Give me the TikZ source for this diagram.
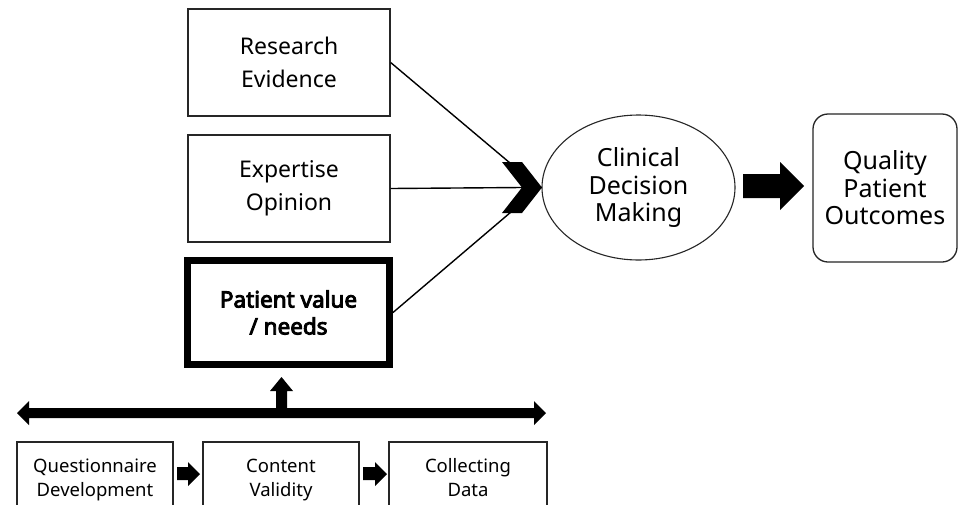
\documentclass[tikz,border=0pt]{standalone}
\usepackage{fontspec}
\setmainfont{Noto Sans}[AutoFakeBold=4]
\usetikzlibrary{shapes.geometric}
\begin{document}
\begin{tikzpicture}[x=1pt,y=-1pt,
  box/.style={draw=black!85, line width=1.3pt, align=center, inner sep=0pt},
  bigfont/.style={font=\fontsize{23}{33}\selectfont},
  midfont/.style={font=\fontsize{25}{27.5}\selectfont},
  smallfont/.style={font=\fontsize{18.5}{24}\selectfont},
  conn/.style={draw=black, line width=1.4pt},
  blk/.style={fill=black}]
\useasboundingbox (0,0) rectangle (958,504);
\fill[white] (0,0) rectangle (958,504);

% left column
\node[box, bigfont, minimum width=202pt, minimum height=107pt] (res) at (289,62.5) {Research\\Evidence};
\node[box, bigfont, minimum width=202pt, minimum height=107pt] (exp) at (289,188.5) {Expertise\\Opinion};
\node[box, line width=7pt, draw=black, minimum width=202pt, minimum height=104pt,
      font=\bfseries\fontsize{22.5}{27}\selectfont] (pat) at (288.5,312.5) {Patient value\\/ needs};

% decision ellipse
\node[ellipse, draw=black!85, line width=1.1pt, midfont, align=center, inner sep=0pt,
      minimum width=193pt, minimum height=145pt] (cdm) at (638.5,187.5) {Clinical\\Decision\\Making};

% outcomes
\node[box, rounded corners=15pt, midfont, minimum width=144pt, minimum height=148pt] (qpo) at (885,188) {Quality\\Patient\\Outcomes};

% chevron points
\coordinate (cA) at (510,163);
\coordinate (cN) at (522,187.5);
\coordinate (cB) at (511,212);
\coordinate (tip) at (542,187.5);

\draw[conn] (res.east) -- (cA);
\draw[conn] (exp.east) -- (cN);
\draw[conn] (pat.east) -- (cB);
\fill[blk] (502,162) -- (522,162) -- (tip) -- (522,213) -- (502,213) -- (cN) -- cycle;

% big arrow to outcomes
\fill[blk] (743,174) -- (780,174) -- (780,162) -- (804,186) -- (780,210) -- (780,198) -- (743,198) -- cycle;

% bottom process boxes
\node[box, smallfont, minimum width=156pt, minimum height=76pt] (q1) at (95,480) {\strut Questionnaire\\\strut Development};
\node[box, smallfont, minimum width=156pt, minimum height=76pt] (q2) at (281,480) {\strut Content\\\strut Validity};
\node[box, smallfont, minimum width=158pt, minimum height=76pt] (q3) at (468,480) {\strut Collecting\\\strut Data};

% small arrows
\fill[blk] (177,467) -- (188,467) -- (188,462) -- (200,474) -- (188,486) -- (188,480) -- (177,480) -- cycle;
\fill[blk] (363,467) -- (375,467) -- (375,462) -- (387,474) -- (375,486) -- (375,480) -- (363,480) -- cycle;

% double arrow with upward branch
\fill[blk] (17,413) -- (29,401) -- (29,408) -- (276,408) -- (276,391) -- (270,391) -- (281.5,377)
  -- (293,391) -- (287,391) -- (287,408) -- (534,408) -- (534,401) -- (546,413) -- (534,425)
  -- (534,418) -- (29,418) -- (29,425) -- cycle;
\end{tikzpicture}
\end{document}
